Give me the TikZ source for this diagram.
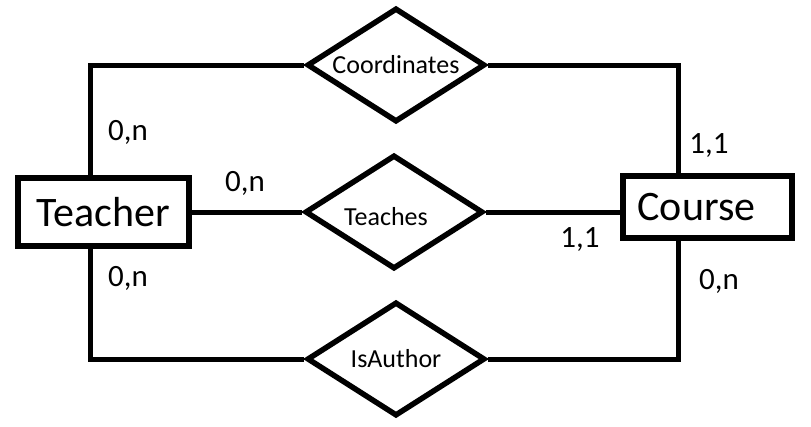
\documentclass[tikz,border=0pt]{standalone}
\usepackage{fontspec}
\setmainfont{Carlito}
\usetikzlibrary{shapes.geometric}
\begin{document}
\begin{tikzpicture}[x=1pt,y=-1pt,
  entity/.style={draw, line width=6pt, rectangle, inner sep=0pt, font=\fontsize{42}{50}\selectfont},
  rel/.style={draw, line width=5.5pt, diamond, shape aspect=1.56, inner sep=0pt, minimum width=178pt, minimum height=114pt, font=\fontsize{26}{30}\selectfont},
  reltext/.style={font=\fontsize{26}{30}\selectfont, inner sep=0pt},
  card/.style={font=\fontsize{31}{36}\selectfont, inner sep=0pt, text depth=0pt},
  conn/.style={line width=5pt}]
\useasboundingbox (0,0) rectangle (811,426);
\node[entity, minimum width=171pt, minimum height=68pt] (T) at (103.5,212) {Teacher};
\node[entity, minimum width=169pt, minimum height=62pt] (C) at (707.5,207) {Course\hspace*{22pt}};
\node[rel] (Co) at (396,65) {Coordinates};
\node[rel] (Te) at (394,212) {};
\node[reltext] (Tet) at (386,217) {Teaches};
\node[rel] (Is) at (396,359) {IsAuthor};
\coordinate (tl) at (90,65);
\coordinate (tr) at (678,65);
\coordinate (bl) at (90,359);
\coordinate (br) at (678,359);
\draw[conn] (T.north -| tl) -- (tl) -- (Co.west);
\draw[conn] (Co.east) -- (tr) -- (tr |- C.north);
\draw[conn] (T.east) -- (Te.west);
\draw[conn] (Te.east) -- (Te.east -| C.west);
\draw[conn] (T.south -| bl) -- (bl) -- (Is.west);
\draw[conn] (Is.east) -- (br) -- (br |- C.south);
\node[card] (l1) at (128,130) {0,n};
\node[card] (l2) at (245,181) {0,n};
\node[card] (l3) at (128,276) {0,n};
\node[card] (l4) at (709,144) {1,1};
\node[card] (l5) at (580,238) {1,1};
\node[card] (l6) at (719,279) {0,n};
\end{tikzpicture}
\end{document}
